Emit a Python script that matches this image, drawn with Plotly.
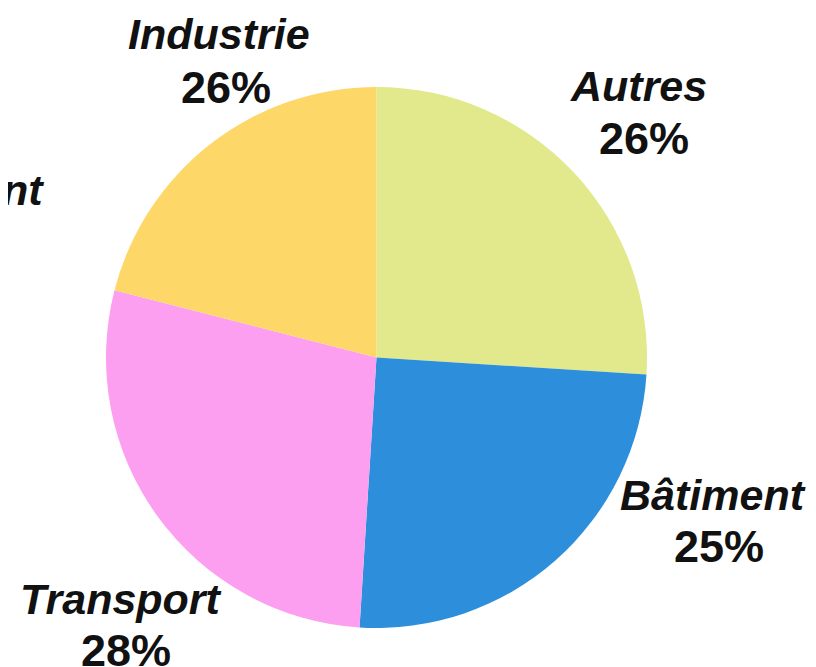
import plotly.graph_objects as go

categories = ["Autres", "Bâtiment", "Transport", "Industrie"]
shares = [26, 25, 28, 21]          # slice sizes as drawn
label_pct = ["26%", "25%", "28%", "26%"]  # percentages printed on the chart
colors = ["#e1e98c", "#2d8fdb", "#fc9ff0", "#fdd767"]

W, H = 816, 667
cx, cy, r = 368.5, 349.5, 270.5

fig = go.Figure(go.Pie(
    labels=categories,
    values=shares,
    sort=False,
    direction="clockwise",
    rotation=0,
    marker=dict(colors=colors, line=dict(width=0)),
    textinfo="none",
    hoverinfo="label+percent",
    showlegend=False,
    domain=dict(x=[(cx - r) / W, (cx + r) / W], y=[1 - (cy + r) / H, 1 - (cy - r) / H]),
))

fam = "Liberation Sans, Arial"
name_font = dict(family=fam, size=43, color="#111111")
pct_font = dict(family=fam, size=45, color="#111111")
label_pos = {
    "Industrie": ((211, 26), (218, 79)),
    "Autres": ((630, 78), (636, 130)),
    "Bâtiment": ((705, 487), (711, 538)),
    "Transport": ((113, 591), (118, 642)),
}
anns = []
for cat, pct in zip(categories, label_pct):
    (nx, ny), (px, py) = label_pos[cat]
    anns.append(dict(x=nx / W, y=1 - ny / H, xref="paper", yref="paper",
                     text=f"<b><i>{cat}</i></b>", showarrow=False, font=name_font,
                     xanchor="center", yanchor="middle"))
    anns.append(dict(x=px / W, y=1 - py / H, xref="paper", yref="paper",
                     text=f"<b>{pct}</b>", showarrow=False, font=pct_font,
                     xanchor="center", yanchor="middle"))
anns.append(dict(x=38 / W, y=1 - 182 / H, xref="paper", yref="paper",
                 text="<b><i>nt</i></b>", showarrow=False, font=name_font,
                 xanchor="right", yanchor="middle"))

fig.update_layout(
    width=W, height=H,
    margin=dict(l=0, r=0, t=0, b=0),
    paper_bgcolor="white", plot_bgcolor="white",
    annotations=anns,
)
fig.write_html("out.html")
